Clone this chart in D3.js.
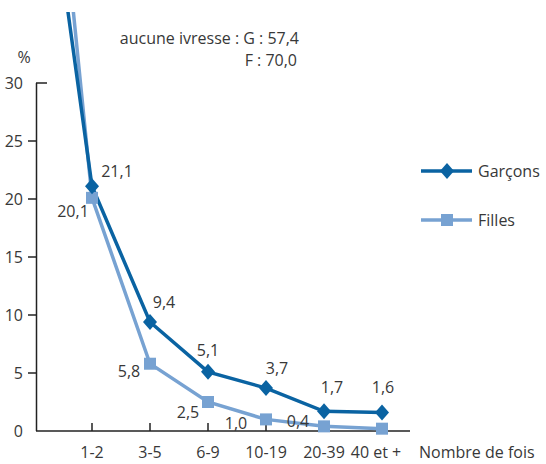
<!DOCTYPE html>
<html>
<head>
<meta charset="utf-8">
<script src="https://cdn.jsdelivr.net/npm/d3@7"></script>
<style>
  body { margin: 0; background: #fff; }
  svg { display: block; }
  text { font-family: "Open Sans", "Noto Sans", sans-serif; fill: #383838; }
</style>
</head>
<body>
<svg id="chart" width="546" height="464"></svg>
<script>
// categories (first one is "aucune ivresse", drawn off the top)
const categories = ["aucune", "1-2", "3-5", "6-9", "10-19", "20-39", "40 et +"];
const tickLabels = ["", "1-2", "3-5", "6-9", "10-19", "20-39", "40 et +"];
const garcons = [57.4, 21.1, 9.4, 5.1, 3.7, 1.7, 1.6];
const filles = [70.0, 20.1, 5.8, 2.5, 1.0, 0.4, 0.2];
const garconsLabels = ["", "21,1", "9,4", "5,1", "3,7", "1,7", "1,6"];
const fillesLabels = ["", "20,1", "5,8", "2,5", "1,0", "0,4", ""];
const yTicks = [0, 5, 10, 15, 20, 25, 30];

// label offsets from the marker
const gOff = [[0, 0], [25, -15], [14, -20], [0, -22], [11, -20], [8, -24], [1, -25]];
const fOff = [[0, 0], [-19, 13], [-21, 8], [-20, 10], [-30, 4], [-26, -5], [0, 0]];

const dark = "#0a63a2";
const light = "#77a2d2";
const fs = 16;

const svg = d3.select("#chart");

const x = d3.scaleLinear().domain([0, categories.length - 1]).range([34, 382]);
const y = d3.scaleLinear().domain([0, 30]).range([431, 83]);

// clip so the "aucune" segment stops near the top
svg.append("defs").append("clipPath").attr("id", "clip")
    .append("rect").attr("x", 0).attr("y", 12).attr("width", 546).attr("height", 452);

// y axis
const yAxis = svg.append("g");
yAxis.append("line")
    .attr("x1", 36.5).attr("x2", 36.5)
    .attr("y1", y(30)).attr("y2", y(0))
    .attr("stroke", "#222").attr("stroke-width", 1.5);
yAxis.append("line")
    .attr("x1", 36).attr("x2", 47)
    .attr("y1", y(30)).attr("y2", y(30))
    .attr("stroke", "#222").attr("stroke-width", 1.5);
yAxis.selectAll(".tk").data(yTicks.filter(d => d > 0 && d < 30)).join("line")
    .attr("x1", 28).attr("x2", 36)
    .attr("y1", d => y(d)).attr("y2", d => y(d))
    .attr("stroke", "#222").attr("stroke-width", 1.5);
yAxis.selectAll("text").data(yTicks).join("text")
    .attr("x", 23).attr("y", d => y(d))
    .attr("dy", "0.36em")
    .attr("text-anchor", "end")
    .attr("font-size", fs)
    .text(d => d);
svg.append("text").attr("x", 24).attr("y", 57).attr("dy", "0.36em")
    .attr("text-anchor", "middle").attr("font-size", fs).text("%");

// x axis
const xAxis = svg.append("g");
xAxis.append("line")
    .attr("x1", 36).attr("x2", 410)
    .attr("y1", y(0)).attr("y2", y(0))
    .attr("stroke", "#222").attr("stroke-width", 1.5);
xAxis.selectAll(".tk").data(d3.range(1, categories.length)).join("line")
    .attr("x1", d => x(d)).attr("x2", d => x(d))
    .attr("y1", y(0)).attr("y2", y(0) - 8)
    .attr("stroke", "#222").attr("stroke-width", 1.5);
xAxis.selectAll("text").data(d3.range(1, categories.length)).join("text")
    .attr("x", d => x(d) + (d === categories.length - 1 ? -6 : 0))
    .attr("y", 452).attr("dy", "0.36em")
    .attr("text-anchor", "middle")
    .attr("font-size", fs)
    .text(d => tickLabels[d]);
svg.append("text").attr("x", 419).attr("y", 452).attr("dy", "0.36em")
    .attr("font-size", fs).text("Nombre de fois");

// lines
const line = d3.line().x((d, i) => x(i)).y(d => y(d));

const plot = svg.append("g").attr("clip-path", "url(#clip)");
plot.append("path").datum(filles)
    .attr("d", line).attr("fill", "none")
    .attr("stroke", light).attr("stroke-width", 3.5);
plot.append("path").datum(garcons)
    .attr("d", line).attr("fill", "none")
    .attr("stroke", dark).attr("stroke-width", 3.5);

const diamond = "M0,-8L7,0L0,8L-7,0Z";

plot.selectAll(".sq").data(filles.slice(1)).join("rect")
    .attr("x", (d, i) => x(i + 1) - 6).attr("y", d => y(d) - 6)
    .attr("width", 12).attr("height", 12)
    .attr("fill", light);
plot.selectAll(".dm").data(garcons.slice(1)).join("path")
    .attr("d", diamond)
    .attr("transform", (d, i) => `translate(${x(i + 1)},${y(d)})`)
    .attr("fill", dark);

// value labels
svg.selectAll(".gl").data(garcons).join("text")
    .attr("x", (d, i) => x(i) + gOff[i][0])
    .attr("y", (d, i) => y(d) + gOff[i][1])
    .attr("dy", "0.36em").attr("text-anchor", "middle")
    .attr("font-size", fs)
    .text((d, i) => garconsLabels[i]);
svg.selectAll(".fl").data(filles).join("text")
    .attr("x", (d, i) => x(i) + fOff[i][0])
    .attr("y", (d, i) => y(d) + fOff[i][1])
    .attr("dy", "0.36em").attr("text-anchor", "middle")
    .attr("font-size", fs)
    .text((d, i) => fillesLabels[i]);

// annotation for "aucune ivresse"
svg.append("text").attr("x", 299).attr("y", 38).attr("dy", "0.36em")
    .attr("text-anchor", "end").attr("font-size", fs)
    .text("aucune ivresse : G : " + String(garcons[0]).replace(".", ","));
svg.append("text").attr("x", 297).attr("y", 60).attr("dy", "0.36em")
    .attr("text-anchor", "end").attr("font-size", fs)
    .text("F : " + filles[0].toFixed(1).replace(".", ","));

// legend
const legend = svg.append("g");
const items = [
    { name: "Garçons", color: dark, shape: "diamond", yy: 171 },
    { name: "Filles", color: light, shape: "square", yy: 220 }
];
items.forEach(it => {
    legend.append("line")
        .attr("x1", 421).attr("x2", 472)
        .attr("y1", it.yy).attr("y2", it.yy)
        .attr("stroke", it.color).attr("stroke-width", 3.5);
    if (it.shape === "diamond") {
        legend.append("path").attr("d", diamond)
            .attr("transform", `translate(447,${it.yy})`)
            .attr("fill", it.color);
    } else {
        legend.append("rect").attr("x", 441).attr("y", it.yy - 6)
            .attr("width", 12).attr("height", 12).attr("fill", it.color);
    }
    legend.append("text").attr("x", 478).attr("y", it.yy).attr("dy", "0.36em")
        .attr("font-size", fs).text(it.name);
});
</script>
</body>
</html>
